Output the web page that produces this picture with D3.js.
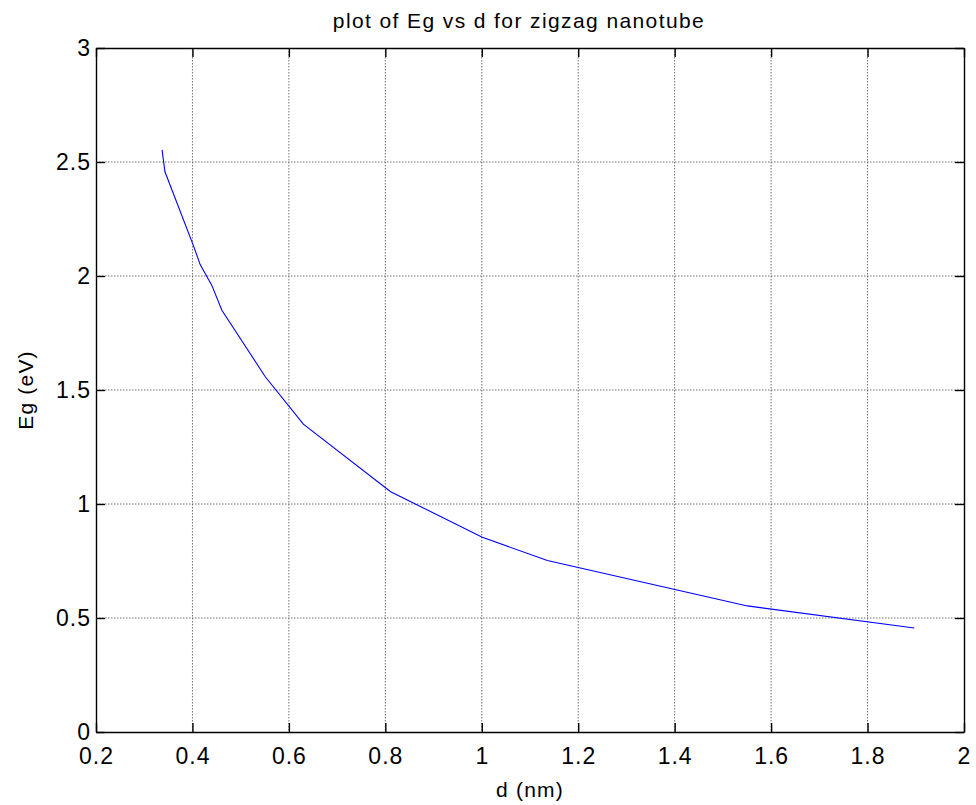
<!DOCTYPE html>
<html>
<head>
<meta charset="utf-8">
<script src="https://cdn.jsdelivr.net/npm/d3@7"></script>
<style>
  html, body { margin: 0; padding: 0; background: #fff; }
  svg { display: block; font-family: 'Liberation Sans', Arial, sans-serif; }
</style>
</head>
<body>
<svg id="chart" width="976" height="805"></svg>
<script>
// Eg vs d for zigzag nanotubes
const diameter = [0.337, 0.343, 0.403, 0.416, 0.440, 0.461, 0.551, 0.630, 0.811, 1.001, 1.136, 1.551, 1.897];
const energyGap = [2.553, 2.457, 2.128, 2.050, 1.960, 1.850, 1.558, 1.350, 1.054, 0.854, 0.752, 0.553, 0.456];
const xTicks = [0.2, 0.4, 0.6, 0.8, 1, 1.2, 1.4, 1.6, 1.8, 2];
const yTicks = [0, 0.5, 1, 1.5, 2, 2.5, 3];

const padding = { top: 48, right: 12, bottom: 73, left: 96 };
const width = 976 - padding.left - padding.right;
const height = 805 - padding.top - padding.bottom;
const tickLen = 9;

const svg = d3.select('#chart');
const canvas = svg.append('g')
  .attr('transform', `translate(${padding.left}, ${padding.top})`);

const x = d3.scaleLinear().domain([0.2, 2]).range([0, width]);
const y = d3.scaleLinear().domain([0, 3]).range([height, 0]);

// dotted grid
canvas.append('g').attr('class', 'grid x')
  .selectAll('line').data(xTicks.slice(1, -1)).join('line')
  .attr('x1', d => x(d)).attr('x2', d => x(d))
  .attr('y1', 0).attr('y2', height);
canvas.append('g').attr('class', 'grid y')
  .selectAll('line').data(yTicks.slice(1, -1)).join('line')
  .attr('y1', d => y(d)).attr('y2', d => y(d))
  .attr('x1', 0).attr('x2', width);
canvas.selectAll('.grid line')
  .attr('stroke', '#707070').attr('stroke-width', 1)
  .attr('stroke-dasharray', '1.5,1.5');

// axes with inward ticks on all four sides
const fmt = d => String(d);
canvas.append('g').attr('class', 'axis x')
  .attr('transform', `translate(0, ${height})`)
  .call(d3.axisBottom(x).tickValues(xTicks).tickFormat(fmt).tickSizeInner(-tickLen).tickSizeOuter(0).tickPadding(16));
canvas.append('g').attr('class', 'axis x2')
  .call(d3.axisTop(x).tickValues(xTicks).tickFormat('').tickSizeInner(-tickLen).tickSizeOuter(0));
canvas.append('g').attr('class', 'axis y')
  .call(d3.axisLeft(y).tickValues(yTicks).tickFormat(fmt).tickSizeInner(-tickLen).tickSizeOuter(0).tickPadding(5));
canvas.append('g').attr('class', 'axis y2')
  .attr('transform', `translate(${width}, 0)`)
  .call(d3.axisRight(y).tickValues(yTicks).tickFormat('').tickSizeInner(-tickLen).tickSizeOuter(0));

canvas.selectAll('.axis path').attr('stroke', '#000').attr('stroke-width', 1.4);
canvas.selectAll('.axis line').attr('stroke', '#000').attr('stroke-width', 1.4);
canvas.selectAll('.axis text')
  .attr('fill', '#000')
  .style('font-size', '23px')
  .style('letter-spacing', '1px')
  .style('font-family', "'Liberation Sans', Arial, sans-serif");

// the curve
const line = d3.line().x((d, i) => x(diameter[i])).y(d => y(d));
canvas.append('path')
  .datum(energyGap)
  .attr('d', line)
  .attr('fill', 'none')
  .attr('stroke', '#0000ff')
  .attr('stroke-width', 1.1);

// labels
svg.append('text')
  .attr('x', 519).attr('y', 28)
  .attr('text-anchor', 'middle')
  .style('font-size', '21px').style('letter-spacing', '1.4px')
  .text('plot of Eg vs d for zigzag nanotube');

svg.append('text')
  .attr('x', padding.left + width / 2).attr('y', 797)
  .attr('text-anchor', 'middle')
  .style('font-size', '21px').style('letter-spacing', '1.2px')
  .text('d (nm)');

svg.append('text')
  .attr('transform', `translate(33, ${padding.top + height / 2}) rotate(-90)`)
  .attr('text-anchor', 'middle')
  .style('font-size', '21px').style('letter-spacing', '1.2px')
  .text('Eg (eV)');
</script>
</body>
</html>
